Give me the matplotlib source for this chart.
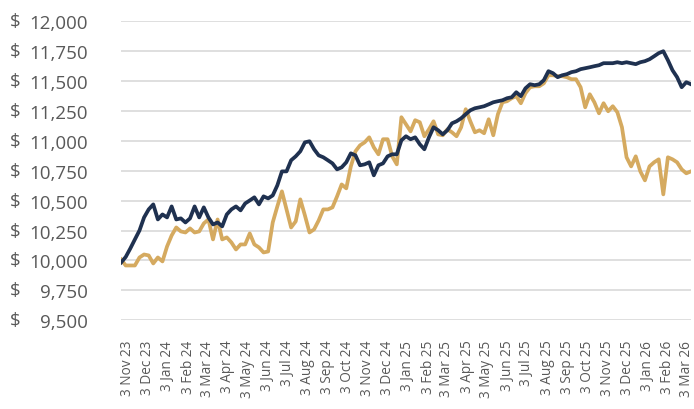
import matplotlib
matplotlib.use("Agg")
import matplotlib.pyplot as plt
import matplotlib.transforms as mtransforms
import pandas as pd

# ---- data (weekly readings of the two series) ----
start_date = "2023-10-24"
navy_values = [
    9983, 10029, 10100, 10176, 10251, 10360, 10427, 10469, 10343, 10385,
    10360, 10452, 10343, 10352, 10318, 10352, 10452, 10360, 10444, 10360,
    10301, 10318, 10285, 10385, 10427, 10452, 10419, 10477, 10502, 10528,
    10469, 10536, 10519, 10544, 10628, 10745, 10745, 10838, 10871, 10913,
    10988, 10997, 10930, 10879, 10863, 10838, 10812, 10762, 10779, 10821,
    10896, 10879, 10796, 10804, 10821, 10712, 10796, 10812, 10871, 10888,
    10888, 11005, 11039, 11014, 11030, 10972, 10930, 11030, 11114, 11089,
    11055, 11089, 11147, 11164, 11189, 11223, 11256, 11273, 11281, 11290,
    11306, 11323, 11332, 11340, 11357, 11365, 11407, 11374, 11440, 11474,
    11466, 11474, 11508, 11583, 11566, 11533, 11549, 11558, 11575, 11583,
    11600, 11608, 11616, 11625, 11633, 11650, 11650, 11650, 11658, 11650,
    11658, 11650, 11642, 11658, 11667, 11683, 11708, 11734, 11750, 11675,
    11591, 11533, 11449, 11491, 11474,
]
gold_values = [
    10008, 9958, 9958, 9958, 10025, 10050, 10042, 9975, 10025, 9992,
    10117, 10209, 10276, 10243, 10234, 10268, 10234, 10243, 10310, 10343,
    10176, 10343, 10176, 10193, 10151, 10092, 10134, 10134, 10226, 10134,
    10109, 10067, 10075, 10318, 10452, 10578, 10427, 10276, 10327, 10511,
    10377, 10234, 10260, 10335, 10427, 10427, 10444, 10536, 10636, 10603,
    10787, 10913, 10963, 10988, 11030, 10946, 10888, 11014, 11014, 10871,
    10804, 11198, 11139, 11080, 11173, 11156, 11039, 11097, 11164, 11055,
    11047, 11097, 11072, 11039, 11114, 11265, 11164, 11072, 11089, 11064,
    11181, 11047, 11223, 11323, 11332, 11357, 11374, 11315, 11399, 11449,
    11457, 11457, 11482, 11549, 11549, 11541, 11541, 11533, 11516, 11516,
    11449, 11281, 11390, 11323, 11231, 11315, 11248, 11290, 11240, 11114,
    10863, 10787, 10871, 10745, 10670, 10787, 10821, 10846, 10553, 10863,
    10846, 10821, 10762, 10729, 10745,
]
y_ticks = [9500, 9750, 10000, 10250, 10500, 10750, 11000, 11250, 11500, 11750, 12000]
x_tick_first_month = "2023-11-01"
x_tick_count = 29
x_tick_day = 3

dates = pd.date_range(start_date, periods=len(navy_values), freq="7D")
tick_dates = pd.date_range(x_tick_first_month, periods=x_tick_count, freq="MS") + pd.Timedelta(days=x_tick_day - 1)
tick_labels = [f"{d.day} {d:%b %y}" for d in tick_dates]

NAVY = "#1f3150"
GOLD = "#d5aa60"
TXT = "#595959"

plt.rcParams["font.family"] = ["Open Sans", "DejaVu Sans"]

fig = plt.figure(figsize=(6.94, 4.10), dpi=100)
ax = fig.add_axes([0.1745, 0.2165, 0.821, 0.729])

ax.plot(dates, gold_values, color=GOLD, lw=2.7, solid_joinstyle="round", zorder=3)
ax.plot(dates, navy_values, color=NAVY, lw=2.7, solid_joinstyle="round", zorder=4)

ax.set_ylim(9500, 12000)
ax.set_xlim(dates[0], dates[-1])
ax.set_yticks(y_ticks)
ax.set_yticklabels([f"{v:,}" for v in y_ticks], fontsize=13.5, color=TXT)
ax.set_xticks(tick_dates)
ax.set_xticklabels(tick_labels, rotation=90, fontsize=9.8, color=TXT)
ax.tick_params(axis="both", length=0)
ax.tick_params(axis="y", pad=24)
ax.tick_params(axis="x", pad=14)

trans = mtransforms.blended_transform_factory(fig.transFigure, ax.transData)
for v in y_ticks:
    ax.text(10 / 694, v, "$", transform=trans, fontsize=13.5, color=TXT,
            ha="left", va="center")

ax.grid(axis="y", color="#dcdcdc", lw=1.3)
ax.grid(axis="x", visible=False)
ax.set_axisbelow(True)
for s in ax.spines.values():
    s.set_visible(False)

fig.savefig("out.png", dpi=100)
